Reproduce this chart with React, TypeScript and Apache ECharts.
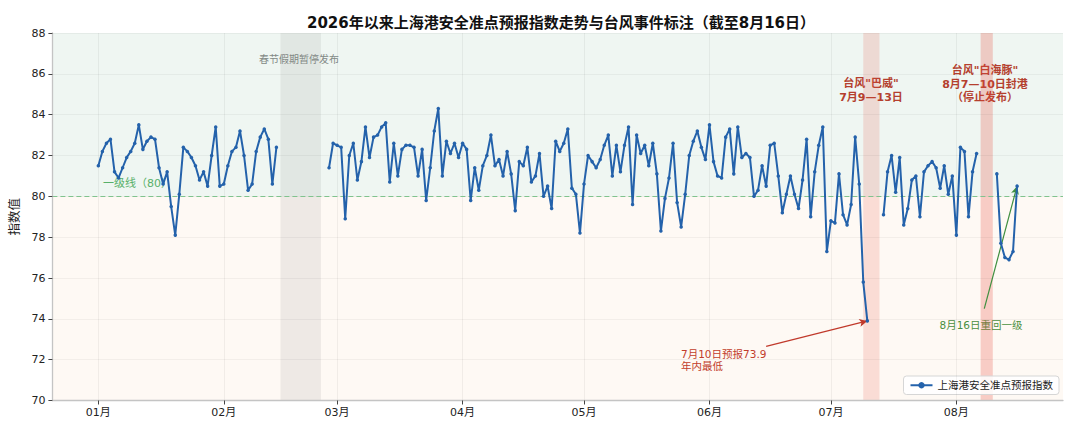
import React, { useEffect, useRef } from "react";
import * as echarts from "echarts";

const YEAR = 2026;
const FONT = "DejaVu Sans, 'Noto Sans CJK SC', sans-serif";

// Daily index values, one entry per day (null = no forecast published)
const jan = [81.5, 82.2, 82.6, 82.8, 81.2, 80.9, 81.4, 81.9, 82.2, 82.6, 83.5, 82.3, 82.7, 82.9, 82.8, 81.4, 80.6, 81.2, 79.5, 78.1, 80.1, 82.4, 82.2, 81.9, 81.5, 80.8, 81.2, 80.5, 82.0, 83.4, 80.5];
const feb = [80.6, 81.5, 82.2, 82.4, 83.2, 82.0, 80.3, 80.6, 82.2, 82.9, 83.3, 82.8, 80.6, 82.4, null, null, null, null, null, null, null, null, null, null, null, null, 81.4, 82.6];
const mar = [82.5, 82.4, 78.9, 82.0, 82.6, 80.8, 81.7, 83.4, 81.9, 82.9, 83.0, 83.4, 83.6, 80.7, 82.6, 81.0, 82.3, 82.5, 82.5, 82.4, 81.0, 82.3, 79.8, 81.4, 83.2, 84.3, 81.0, 82.7, 82.1, 82.6, 81.9];
const apr = [82.6, 82.3, 79.8, 81.4, 80.3, 81.5, 82.0, 83.0, 81.5, 81.8, 81.0, 82.2, 81.1, 79.3, 81.7, 81.5, 82.4, 80.7, 81.0, 82.1, 80.0, 80.5, 79.4, 82.7, 82.2, 82.6, 83.3, 80.4, 80.1, 78.2];
const may = [80.6, 82.0, 81.7, 81.4, 81.8, 82.5, 83.0, 81.0, 82.5, 81.2, 82.5, 83.4, 79.6, 83.0, 82.1, 82.5, 81.5, 82.6, 81.1, 78.3, 79.9, 80.9, 82.6, 79.7, 78.5, 80.1, 82.0, 82.7, 83.2, 82.4, 81.8];
const jun = [83.5, 81.7, 81.0, 80.9, 82.9, 83.3, 81.1, 83.4, 81.9, 82.1, 81.9, 80.0, 80.3, 81.5, 80.5, 82.5, 82.6, 81.0, 79.2, 80.1, 81.0, 80.1, 79.4, 80.8, 82.8, 79.0, 81.2, 82.5, 83.4, 77.3];
const jul = [78.8, 78.7, 81.1, 79.1, 78.6, 79.6, 82.9, 80.6, 75.8, 73.9, null, null, null, 79.1, 81.2, 82.0, 80.2, 81.9, 78.6, 79.4, 80.8, 81.0, 79.0, 81.2, 81.5, 81.7, 81.4, 80.4, 81.5, 80.1, 81.0];
const aug = [78.1, 82.4, 82.2, 79.0, 81.2, 82.1, null, null, null, null, 81.1, 77.7, 77.0, 76.9, 77.3, 80.5];

const monthLabels = ["01月", "02月", "03月", "04月", "05月", "06月", "07月", "08月"];
const seriesName = "上海港安全准点预报指数";
const threshold = 80;
const yTicks = { min: 70, max: 88, step: 2 };

const dayIndex = (m: number, d: number) =>
  Math.round((Date.UTC(YEAR, m, d) - Date.UTC(YEAR, 0, 1)) / 86400000);

const allValues = [jan, feb, mar, apr, may, jun, jul, aug].flat();
const monthStarts = monthLabels.map((_, m) => dayIndex(m, 1));

// event bands [start, end] as day indices
const springBand = [dayIndex(1, 15), dayIndex(1, 25)];
const typhoon1Band = [dayIndex(6, 9), dayIndex(6, 13)];
const typhoon2Band = [dayIndex(7, 7), dayIndex(7, 10)];

// annotated points
const lowPoint = [dayIndex(6, 10), 73.9];
const recoverPoint = [dayIndex(7, 16), 80.5];
const lowArrowFrom = [165, 72.65];
const recoverArrowFrom = [218.9, 74.5];

export default function App() {
  const ref = useRef<HTMLDivElement>(null);
  useEffect(() => {
    if (!ref.current) return;
    const chart = echarts.init(ref.current, undefined, { renderer: "svg" });
    const lastDay = allValues.length - 1;
    const pad = lastDay * 0.05;
    const xMin = -pad;
    const xMax = lastDay + pad;
    const data = allValues.map((v, i) => [i, v]);
    const red = "#c0392b";

    chart.setOption({
      animation: false,
      textStyle: { fontFamily: FONT },
      title: {
        text: "2026年以来上海港安全准点预报指数走势与台风事件标注（截至8月16日）",
        left: 556,
        top: 10,
        textAlign: "center",
        textStyle: { fontSize: 15, fontWeight: "bold", color: "#111", fontFamily: FONT },
      },
      legend: {
        data: [seriesName],
        right: 21,
        top: 376,
        itemWidth: 22,
        itemHeight: 8,
        padding: [4, 6, 4, 6],
        backgroundColor: "rgba(255,255,255,0.85)",
        borderColor: "#d6d6d6",
        borderWidth: 1,
        borderRadius: 3,
        textStyle: { fontSize: 10.5, color: "#222", fontFamily: FONT },
      },
      grid: { left: 50, right: 17, top: 33, bottom: 32.5, containLabel: false },
      xAxis: {
        type: "value",
        min: xMin,
        max: xMax,
        z: 6,
        axisLine: { show: true, onZero: false, lineStyle: { color: "#c4c4c4", width: 1.3 } },
        axisTick: { show: true, customValues: monthStarts, length: 4, lineStyle: { color: "#444" } },
        axisLabel: {
          customValues: monthStarts,
          formatter: (v: number) => {
            const i = monthStarts.indexOf(Math.round(v));
            return i >= 0 ? monthLabels[i] : "";
          },
          fontSize: 11,
          color: "#222",
          margin: 6,
          fontFamily: FONT,
        },
        splitLine: { show: false },
      },
      yAxis: {
        type: "value",
        min: yTicks.min,
        max: yTicks.max,
        interval: yTicks.step,
        z: 6,
        name: "指数值",
        nameLocation: "middle",
        nameGap: 31,
        nameTextStyle: { fontSize: 12.5, color: "#222", fontFamily: FONT },
        axisLine: { show: true, onZero: false, lineStyle: { color: "#c4c4c4", width: 1.3 } },
        axisTick: { show: true, length: 4, lineStyle: { color: "#444" } },
        axisLabel: { fontSize: 11, color: "#222", margin: 7, fontFamily: FONT },
        splitLine: { show: true, lineStyle: { color: "rgba(0,0,0,0.045)" } },
      },
      series: [
        {
          name: seriesName,
          type: "line",
          data,
          connectNulls: false,
          symbol: "circle",
          symbolSize: 3.5,
          z: 5,
          itemStyle: { color: "#2462ab" },
          lineStyle: { color: "#2462ab", width: 2 },
          emphasis: { disabled: true },
          markArea: {
            silent: true,
            data: [
              [
                { xAxis: xMin, yAxis: threshold, itemStyle: { color: "rgba(46,139,87,0.08)" } },
                { xAxis: xMax, yAxis: yTicks.max },
              ],
              [
                { xAxis: xMin, yAxis: yTicks.min, itemStyle: { color: "rgba(230,140,50,0.055)" } },
                { xAxis: xMax, yAxis: threshold },
              ],
              [
                { xAxis: springBand[0], yAxis: yTicks.min, itemStyle: { color: "rgba(128,128,128,0.13)" } },
                { xAxis: springBand[1], yAxis: yTicks.max },
              ],
              [
                { xAxis: typhoon1Band[0], yAxis: yTicks.min, itemStyle: { color: "rgba(231,76,60,0.17)" } },
                { xAxis: typhoon1Band[1], yAxis: yTicks.max },
              ],
              [
                { xAxis: typhoon2Band[0], yAxis: yTicks.min, itemStyle: { color: "rgba(231,76,60,0.26)" } },
                { xAxis: typhoon2Band[1], yAxis: yTicks.max },
              ],
            ],
          },
          markLine: {
            silent: true,
            symbol: ["none", "none"],
            label: { show: false },
            data: [
              ...monthStarts.map((m) => ({
                xAxis: m,
                lineStyle: { color: "rgba(0,0,0,0.05)", type: "solid", width: 1 },
              })),
              { yAxis: threshold, lineStyle: { color: "#86cc95", type: [5, 3], width: 1.2 } },
              [
                { coord: lowArrowFrom, symbol: "none", lineStyle: { color: red, type: "solid", width: 1.2 } },
                { coord: lowPoint, symbol: "arrow", symbolSize: [6, 8] },
              ],
              [
                { coord: recoverArrowFrom, symbol: "none", lineStyle: { color: "#3f8f3f", type: "solid", width: 1.2 } },
                { coord: recoverPoint, symbol: "arrow", symbolSize: [6, 8] },
              ],
            ],
          },
        },
      ],
      graphic: [
        {
          type: "text",
          x: 299,
          y: 59,
          style: { text: "春节假期暂停发布", fill: "#8a8a8a", fontSize: 10, fontFamily: FONT, textAlign: "center", textVerticalAlign: "middle" },
        },
        {
          type: "text",
          x: 103,
          y: 183,
          z: 1,
          style: { text: "一级线（80）", fill: "#5cb46c", fontSize: 11, fontFamily: FONT, textAlign: "left", textVerticalAlign: "middle" },
        },
        {
          type: "text",
          x: 871,
          y: 90.5,
          style: { text: "台风\"巴威\"\n7月9—13日", fill: red, fontSize: 11, fontWeight: "bold", lineHeight: 14.5, fontFamily: FONT, textAlign: "center", textVerticalAlign: "middle" },
        },
        {
          type: "text",
          x: 985,
          y: 84,
          style: { text: "台风\"白海豚\"\n8月7—10日封港\n（停止发布）", fill: red, fontSize: 11, fontWeight: "bold", lineHeight: 13.8, fontFamily: FONT, textAlign: "center", textVerticalAlign: "middle" },
        },
        {
          type: "text",
          x: 681,
          y: 360,
          style: { text: "7月10日预报73.9\n年内最低", fill: red, fontSize: 10.5, lineHeight: 12.5, fontFamily: FONT, textAlign: "left", textVerticalAlign: "middle" },
        },
        {
          type: "text",
          x: 981,
          y: 324.5,
          style: { text: "8月16日重回一级", fill: "#3f8f3f", fontSize: 10.5, fontFamily: FONT, textAlign: "center", textVerticalAlign: "middle" },
        },
      ],
    });
    return () => chart.dispose();
  }, []);
  return <div ref={ref} style={{ position: "absolute", left: 0, top: 0, width: 1080, height: 433 }} />;
}
